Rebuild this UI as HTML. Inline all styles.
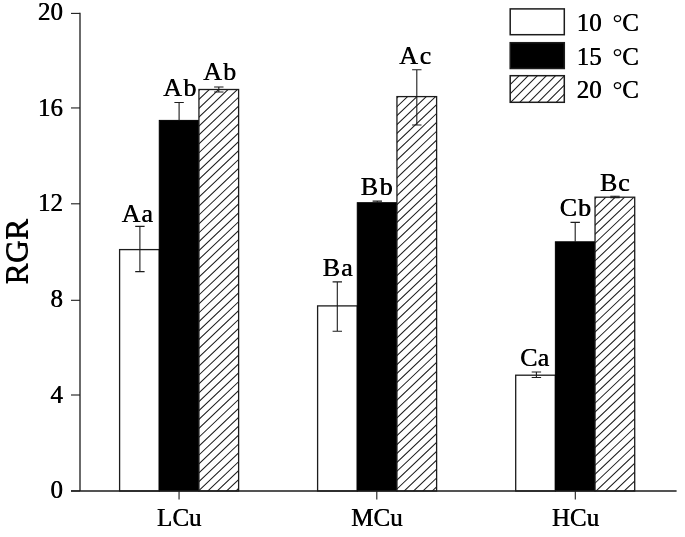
<!DOCTYPE html>
<html lang="en"><head><meta charset="utf-8"><title>RGR chart</title>
<style>
html,body{margin:0;padding:0;background:#fff;}
body{width:685px;height:537px;overflow:hidden;}
svg{display:block;font-family:"Liberation Serif",serif;fill:#000;}
.ln{stroke:#1c1c1c;stroke-width:1.3;fill:none;}
.t{font-size:25px;text-shadow:0.5px 0 0 #000;}
.eb{stroke-width:1.1;}
.hl{stroke:#1c1c1c;stroke-width:1.05;fill:none;}
.lab{font-size:25px;text-shadow:0.5px 0 0 #000;}
</style></head><body>
<svg width="685" height="537" viewBox="0 0 685 537">
<rect x="0" y="0" width="685" height="537" fill="#fff"/>

<rect x="119.60" y="249.60" width="39.67" height="241.40" fill="#fff" class="ln" style="fill:#fff"/>
<rect x="159.27" y="120.40" width="39.67" height="370.60" fill="#000" stroke="#000" stroke-width="1"/>
<rect x="198.94" y="89.50" width="39.67" height="401.50" fill="#fff"/>
<clipPath id="c1"><rect x="198.94" y="89.50" width="39.67" height="401.50"/></clipPath>
<path clip-path="url(#c1)" class="hl" d="M196.94,74.62 L240.61,33.13 M196.94,83.51 L240.61,42.02 M196.94,92.40 L240.61,50.91 M196.94,101.29 L240.61,59.80 M196.94,110.18 L240.61,68.69 M196.94,119.07 L240.61,77.58 M196.94,127.96 L240.61,86.47 M196.94,136.85 L240.61,95.36 M196.94,145.74 L240.61,104.25 M196.94,154.63 L240.61,113.14 M196.94,163.52 L240.61,122.03 M196.94,172.41 L240.61,130.92 M196.94,181.30 L240.61,139.81 M196.94,190.19 L240.61,148.70 M196.94,199.08 L240.61,157.59 M196.94,207.97 L240.61,166.48 M196.94,216.86 L240.61,175.37 M196.94,225.75 L240.61,184.26 M196.94,234.64 L240.61,193.15 M196.94,243.53 L240.61,202.04 M196.94,252.42 L240.61,210.93 M196.94,261.31 L240.61,219.82 M196.94,270.20 L240.61,228.71 M196.94,279.09 L240.61,237.60 M196.94,287.98 L240.61,246.49 M196.94,296.87 L240.61,255.38 M196.94,305.76 L240.61,264.27 M196.94,314.65 L240.61,273.16 M196.94,323.54 L240.61,282.05 M196.94,332.43 L240.61,290.94 M196.94,341.32 L240.61,299.83 M196.94,350.21 L240.61,308.72 M196.94,359.10 L240.61,317.61 M196.94,367.99 L240.61,326.50 M196.94,376.88 L240.61,335.39 M196.94,385.77 L240.61,344.28 M196.94,394.66 L240.61,353.17 M196.94,403.55 L240.61,362.06 M196.94,412.44 L240.61,370.95 M196.94,421.33 L240.61,379.84 M196.94,430.22 L240.61,388.73 M196.94,439.11 L240.61,397.62 M196.94,448.00 L240.61,406.51 M196.94,456.89 L240.61,415.40 M196.94,465.78 L240.61,424.29 M196.94,474.67 L240.61,433.18 M196.94,483.56 L240.61,442.07 M196.94,492.45 L240.61,450.96 M196.94,501.34 L240.61,459.85 M196.94,510.23 L240.61,468.74 M196.94,519.12 L240.61,477.63 M196.94,528.01 L240.61,486.52 M196.94,536.90 L240.61,495.41 M196.94,545.79 L240.61,504.30"/>
<rect x="198.94" y="89.50" width="39.67" height="401.50" class="ln"/>
<rect x="317.60" y="305.90" width="39.67" height="185.10" fill="#fff" class="ln" style="fill:#fff"/>
<rect x="357.27" y="202.70" width="39.67" height="288.30" fill="#000" stroke="#000" stroke-width="1"/>
<rect x="396.94" y="96.60" width="39.67" height="394.40" fill="#fff"/>
<clipPath id="c2"><rect x="396.94" y="96.60" width="39.67" height="394.40"/></clipPath>
<path clip-path="url(#c2)" class="hl" d="M394.94,81.96 L438.61,40.47 M394.94,90.85 L438.61,49.36 M394.94,99.74 L438.61,58.25 M394.94,108.63 L438.61,67.14 M394.94,117.52 L438.61,76.03 M394.94,126.41 L438.61,84.92 M394.94,135.30 L438.61,93.81 M394.94,144.19 L438.61,102.70 M394.94,153.08 L438.61,111.59 M394.94,161.97 L438.61,120.48 M394.94,170.86 L438.61,129.37 M394.94,179.75 L438.61,138.26 M394.94,188.64 L438.61,147.15 M394.94,197.53 L438.61,156.04 M394.94,206.42 L438.61,164.93 M394.94,215.31 L438.61,173.82 M394.94,224.20 L438.61,182.71 M394.94,233.09 L438.61,191.60 M394.94,241.98 L438.61,200.49 M394.94,250.87 L438.61,209.38 M394.94,259.76 L438.61,218.27 M394.94,268.65 L438.61,227.16 M394.94,277.54 L438.61,236.05 M394.94,286.43 L438.61,244.94 M394.94,295.32 L438.61,253.83 M394.94,304.21 L438.61,262.72 M394.94,313.10 L438.61,271.61 M394.94,321.99 L438.61,280.50 M394.94,330.88 L438.61,289.39 M394.94,339.77 L438.61,298.28 M394.94,348.66 L438.61,307.17 M394.94,357.55 L438.61,316.06 M394.94,366.44 L438.61,324.95 M394.94,375.33 L438.61,333.84 M394.94,384.22 L438.61,342.73 M394.94,393.11 L438.61,351.62 M394.94,402.00 L438.61,360.51 M394.94,410.89 L438.61,369.40 M394.94,419.78 L438.61,378.29 M394.94,428.67 L438.61,387.18 M394.94,437.56 L438.61,396.07 M394.94,446.45 L438.61,404.96 M394.94,455.34 L438.61,413.85 M394.94,464.23 L438.61,422.74 M394.94,473.12 L438.61,431.63 M394.94,482.01 L438.61,440.52 M394.94,490.90 L438.61,449.41 M394.94,499.79 L438.61,458.30 M394.94,508.68 L438.61,467.19 M394.94,517.57 L438.61,476.08 M394.94,526.46 L438.61,484.97 M394.94,535.35 L438.61,493.86 M394.94,544.24 L438.61,502.75"/>
<rect x="396.94" y="96.60" width="39.67" height="394.40" class="ln"/>
<rect x="515.70" y="375.20" width="39.67" height="115.80" fill="#fff" class="ln" style="fill:#fff"/>
<rect x="555.37" y="241.80" width="39.67" height="249.20" fill="#000" stroke="#000" stroke-width="1"/>
<rect x="595.04" y="197.20" width="39.67" height="293.80" fill="#fff"/>
<clipPath id="c3"><rect x="595.04" y="197.20" width="39.67" height="293.80"/></clipPath>
<path clip-path="url(#c3)" class="hl" d="M593.04,182.74 L636.71,141.25 M593.04,191.63 L636.71,150.14 M593.04,200.52 L636.71,159.03 M593.04,209.41 L636.71,167.92 M593.04,218.30 L636.71,176.81 M593.04,227.19 L636.71,185.70 M593.04,236.08 L636.71,194.59 M593.04,244.97 L636.71,203.48 M593.04,253.86 L636.71,212.37 M593.04,262.75 L636.71,221.26 M593.04,271.64 L636.71,230.15 M593.04,280.53 L636.71,239.04 M593.04,289.42 L636.71,247.93 M593.04,298.31 L636.71,256.82 M593.04,307.20 L636.71,265.71 M593.04,316.09 L636.71,274.60 M593.04,324.98 L636.71,283.49 M593.04,333.87 L636.71,292.38 M593.04,342.76 L636.71,301.27 M593.04,351.65 L636.71,310.16 M593.04,360.54 L636.71,319.05 M593.04,369.43 L636.71,327.94 M593.04,378.32 L636.71,336.83 M593.04,387.21 L636.71,345.72 M593.04,396.10 L636.71,354.61 M593.04,404.99 L636.71,363.50 M593.04,413.88 L636.71,372.39 M593.04,422.77 L636.71,381.28 M593.04,431.66 L636.71,390.17 M593.04,440.55 L636.71,399.06 M593.04,449.44 L636.71,407.95 M593.04,458.33 L636.71,416.84 M593.04,467.22 L636.71,425.73 M593.04,476.11 L636.71,434.62 M593.04,485.00 L636.71,443.51 M593.04,493.89 L636.71,452.40 M593.04,502.78 L636.71,461.29 M593.04,511.67 L636.71,470.18 M593.04,520.56 L636.71,479.07 M593.04,529.45 L636.71,487.96 M593.04,538.34 L636.71,496.85 M593.04,547.23 L636.71,505.74"/>
<rect x="595.04" y="197.20" width="39.67" height="293.80" class="ln"/>
<path class="ln eb" d="M139.9,226.4 V271.6 M135.2,226.4 H144.6 M135.2,271.6 H144.6"/>
<path class="ln eb" d="M179.1,102.5 V120.4 M174.4,102.5 H183.8"/>
<path class="ln eb" d="M218.8,87.0 V92.0 M214.1,87.0 H223.5 M214.1,92.0 H223.5"/>
<path class="ln eb" d="M337.3,281.9 V331.3 M332.6,281.9 H342.0 M332.6,331.3 H342.0"/>
<path class="ln eb" d="M377.3,201.1 V202.7 M372.6,201.1 H382.0"/>
<path class="ln eb" d="M416.8,69.7 V125.0 M412.1,69.7 H421.5 M412.1,125.0 H421.5"/>
<path class="ln eb" d="M536.4,372.0 V377.5 M531.7,372.0 H541.1 M531.7,377.5 H541.1"/>
<path class="ln eb" d="M575.2,222.4 V241.8 M570.5,222.4 H579.9"/>
<path class="ln eb" d="M615.0,196.3 V197.6 M610.3,196.3 H619.7 M610.3,197.6 H619.7"/>
<path class="ln" d="M80.0,12.8 V491.0 M71,491.0 H676.6"/>
<path class="ln eb" d="M71,490.95 H80.0"/>
<text class="t" x="62.8" y="497.6" text-anchor="end">0</text>
<path class="ln eb" d="M71,395.00 H80.0"/>
<text class="t" x="62.8" y="402.6" text-anchor="end">4</text>
<path class="ln eb" d="M71,300.30 H80.0"/>
<text class="t" x="62.8" y="306.9" text-anchor="end">8</text>
<path class="ln eb" d="M71,203.80 H80.0"/>
<text class="t" x="62.8" y="211.0" text-anchor="end">12</text>
<path class="ln eb" d="M71,107.95 H80.0"/>
<text class="t" x="62.8" y="116.0" text-anchor="end">16</text>
<path class="ln eb" d="M71,13.40 H80.0"/>
<text class="t" x="62.8" y="20.2" text-anchor="end">20</text>
<path class="ln eb" d="M179.05,491.0 V499.5"/>
<text class="t" x="179.1" y="525.7" text-anchor="middle">LCu</text>
<path class="ln eb" d="M376.80,491.0 V499.5"/>
<text class="t" x="376.8" y="525.7" text-anchor="middle">MCu</text>
<path class="ln eb" d="M575.30,491.0 V499.5"/>
<text class="t" x="575.3" y="525.7" text-anchor="middle">HCu</text>
<text x="27" y="251.5" font-size="32" style="text-shadow:0 0.5px 0 #000" text-anchor="middle" transform="rotate(-90 27 251.5)">RGR</text>
<text class="lab" transform="translate(121.5 221.6) scale(1.04 1)" letter-spacing="0.9">Aa</text>
<text class="lab" transform="translate(163.0 95.5) scale(1.04 1)" letter-spacing="1.5">Ab</text>
<text class="lab" transform="translate(203.0 80.1) scale(1.04 1)" letter-spacing="1.2">Ab</text>
<text class="lab" transform="translate(322.4 275.5) scale(1.04 1)" letter-spacing="1.1">Ba</text>
<text class="lab" transform="translate(360.6 194.8) scale(1.04 1)" letter-spacing="1.5">Bb</text>
<text class="lab" transform="translate(399.0 64.0) scale(1.04 1)" letter-spacing="1.6">Ac</text>
<text class="lab" transform="translate(519.9 366.0) scale(1.04 1)" letter-spacing="0.3">Ca</text>
<text class="lab" transform="translate(559.6 216.2) scale(1.04 1)" letter-spacing="0.9">Cb</text>
<text class="lab" transform="translate(599.8 191.2) scale(1.04 1)" letter-spacing="0.9">Bc</text>
<rect x="510.2" y="8.9" width="54.1" height="25.8" class="ln" style="fill:#fff;stroke-width:1.5"/>
<rect x="510.2" y="42.7" width="54.1" height="25.8" class="ln" style="fill:#000;stroke-width:1.5"/>
<clipPath id="c4"><rect x="510.20" y="75.70" width="54.50" height="26.60"/></clipPath>
<path clip-path="url(#c4)" class="hl" d="M508.20,68.40 L566.70,9.90 M508.20,77.50 L566.70,19.00 M508.20,86.60 L566.70,28.10 M508.20,95.70 L566.70,37.20 M508.20,104.80 L566.70,46.30 M508.20,113.90 L566.70,55.40 M508.20,123.00 L566.70,64.50 M508.20,132.10 L566.70,73.60 M508.20,141.20 L566.70,82.70 M508.20,150.30 L566.70,91.80 M508.20,159.40 L566.70,100.90 M508.20,168.50 L566.70,110.00"/>
<rect x="510.2" y="75.7" width="54.1" height="26.6" class="ln" style="fill:none;stroke-width:1.5"/>
<text class="t" x="576.5" y="30.8">10<tspan dx="11" style="text-shadow:none">°</tspan><tspan dx="-0.6">C</tspan></text>
<text class="t" x="576.5" y="65.0">15<tspan dx="11" style="text-shadow:none">°</tspan><tspan dx="-0.6">C</tspan></text>
<text class="t" x="576.5" y="98.3">20<tspan dx="11" style="text-shadow:none">°</tspan><tspan dx="-0.6">C</tspan></text>
</svg></body></html>
